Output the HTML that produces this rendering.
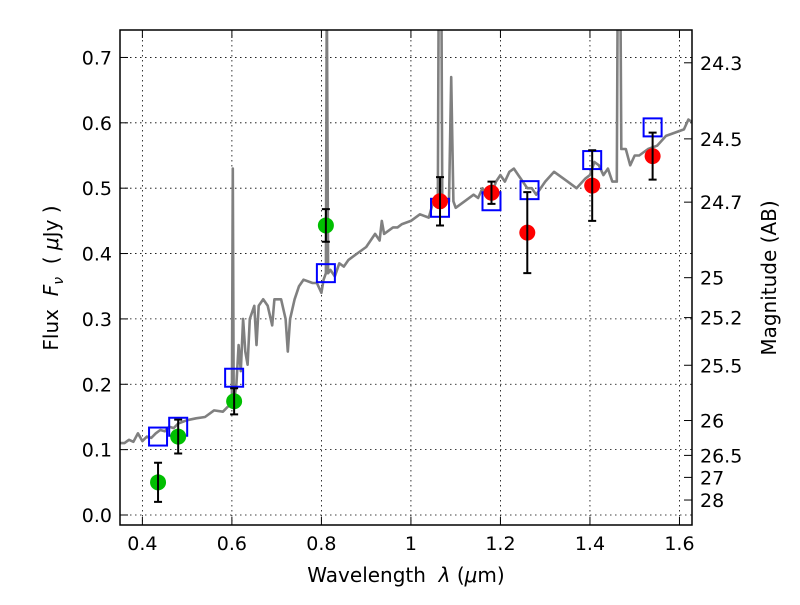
<!DOCTYPE html>
<html><head><meta charset="utf-8"><style>
body{margin:0;background:#fff;}
svg{font-family:"DejaVu Sans","Liberation Sans",sans-serif;}
</style></head><body>
<svg id="chart" width="800" height="600"></svg>
<script>
const specLam=[0.35,0.36,0.37,0.38,0.39,0.40,0.41,0.42,0.43,0.44,0.45,0.46,0.47,0.48,0.50,0.52,0.54,0.56,0.58,0.59,0.60,0.602,0.604,0.61,0.615,0.62,0.625,0.63,0.635,0.64,0.65,0.655,0.66,0.67,0.68,0.69,0.695,0.70,0.71,0.72,0.725,0.73,0.74,0.75,0.76,0.78,0.79,0.80,0.805,0.81,0.812,0.815,0.82,0.83,0.84,0.85,0.86,0.88,0.90,0.91,0.92,0.93,0.935,0.94,0.96,0.97,0.98,1.0,1.02,1.04,1.05,1.06,1.062,1.068,1.07,1.08,1.085,1.09,1.095,1.10,1.12,1.14,1.15,1.16,1.17,1.18,1.19,1.20,1.21,1.22,1.23,1.24,1.25,1.26,1.27,1.28,1.30,1.32,1.33,1.35,1.37,1.39,1.40,1.41,1.42,1.43,1.44,1.45,1.46,1.462,1.468,1.47,1.48,1.49,1.50,1.51,1.53,1.55,1.57,1.59,1.61,1.62,1.63];
const specFlux=[0.11,0.11,0.115,0.112,0.125,0.113,0.12,0.118,0.125,0.13,0.128,0.135,0.133,0.14,0.145,0.148,0.15,0.16,0.158,0.165,0.17,0.53,0.17,0.2,0.26,0.22,0.3,0.25,0.23,0.3,0.32,0.26,0.32,0.33,0.32,0.29,0.33,0.33,0.33,0.3,0.25,0.3,0.33,0.35,0.36,0.355,0.355,0.34,0.36,0.37,0.8,0.37,0.375,0.365,0.385,0.38,0.39,0.4,0.41,0.42,0.43,0.42,0.45,0.43,0.44,0.44,0.445,0.45,0.46,0.455,0.48,0.47,0.8,0.8,0.47,0.48,0.48,0.67,0.48,0.47,0.48,0.49,0.485,0.5,0.49,0.49,0.51,0.52,0.51,0.525,0.53,0.52,0.51,0.5,0.5,0.49,0.51,0.525,0.52,0.51,0.5,0.515,0.52,0.54,0.535,0.52,0.53,0.51,0.51,0.8,0.8,0.56,0.56,0.535,0.55,0.55,0.56,0.565,0.58,0.585,0.59,0.605,0.6];
const greenLam=[0.435,0.48,0.605,0.81];
const greenFlux=[0.05,0.12,0.174,0.443];
const greenErr=[0.03,0.026,0.02,0.025];
const redLam=[1.065,1.18,1.26,1.405,1.54];
const redFlux=[0.48,0.493,0.432,0.504,0.549];
const redErr=[0.037,0.017,0.062,0.054,0.036];
const boxLam=[0.435,0.48,0.605,0.81,1.065,1.18,1.265,1.405,1.54];
const boxFlux=[0.12,0.135,0.21,0.37,0.47,0.48,0.497,0.543,0.593];
const xTicks=[0.4,0.6,0.8,1.0,1.2,1.4,1.6];
const xTickLabels=["0.4","0.6","0.8","1","1.2","1.4","1.6"];
const yTicks=[0,0.1,0.2,0.3,0.4,0.5,0.6,0.7];
const yTickLabels=["0.0","0.1","0.2","0.3","0.4","0.5","0.6","0.7"];
const magTicks=[24.3,24.5,24.7,25,25.2,25.5,26,26.5,27,28];
const magLabels=["24.3","24.5","24.7","25","25.2","25.5","26","26.5","27","28"];

const L=120,R=692,T=30,B=525;
const xmin=0.35,xmax=1.628,ymin=-0.0153,ymax=0.742;
const X=v=>L+(v-xmin)/(xmax-xmin)*(R-L);
const Y=v=>B-(v-ymin)/(ymax-ymin)*(B-T);
const svg=document.getElementById('chart');
const NS='http://www.w3.org/2000/svg';
function mk(tag,attrs,parent){const e=document.createElementNS(NS,tag);for(const k in attrs)e.setAttribute(k,attrs[k]);(parent||svg).appendChild(e);return e;}

const defs=mk('defs',{});
const cp=mk('clipPath',{id:'clip'},defs);
mk('rect',{x:L,y:T,width:R-L,height:B-T},cp);

xTicks.forEach(v=>{const g=mk('line',{x1:X(v),x2:X(v),y1:T,y2:B,stroke:'#000','stroke-width':0.8,'stroke-dasharray':'1.5,3.5'});

});
yTicks.forEach(v=>{const g=mk('line',{x1:L,x2:R,y1:Y(v),y2:Y(v),stroke:'#000','stroke-width':0.8,'stroke-dasharray':'1.5,3.5'});

});

const plotG=mk('g',{'clip-path':'url(#clip)'});
const d=specLam.map((l,i)=>(i?'L':'M')+X(l).toFixed(1)+','+Y(specFlux[i]).toFixed(1)).join(' ');
const sp=mk('path',{d:d,fill:'none',stroke:'#808080','stroke-width':2.6,'stroke-linejoin':'round'},plotG);



boxLam.forEach((l,i)=>{const r=mk('rect',{x:X(l)-9,y:Y(boxFlux[i])-9,width:18,height:18,fill:'none',stroke:'#0000ff','stroke-width':2},plotG);

});

function pts(lams,fl,er,col,name){
 lams.forEach((l,i)=>{
  const c=mk('circle',{cx:X(l),cy:Y(fl[i]),r:8,fill:col},plotG);
  
  
  const x=X(l),y1=Y(fl[i]+er[i]),y2=Y(fl[i]-er[i]);
  const e=mk('path',{d:`M${x},${y1}L${x},${y2}M${x-4},${y1}L${x+4},${y1}M${x-4},${y2}L${x+4},${y2}`,stroke:'#000','stroke-width':2,fill:'none'},plotG);
  
  
 });
}
pts(greenLam,greenFlux,greenErr,'#00bf00','optical-data-point');
pts(redLam,redFlux,redErr,'#ff0000','nir-data-point');

const fr=mk('rect',{x:L,y:T,width:R-L,height:B-T,fill:'none',stroke:'#000','stroke-width':1.5});



xTicks.forEach((v,i)=>{
 mk('line',{x1:X(v),x2:X(v),y1:B,y2:B-8,stroke:'#000'});
 mk('line',{x1:X(v),x2:X(v),y1:T,y2:T+8,stroke:'#000'});
 const t=mk('text',{x:X(v),y:B+25,'font-size':19,'text-anchor':'middle'});t.textContent=xTickLabels[i];
 
 
});
yTicks.forEach((v,i)=>{
 mk('line',{x1:L,x2:L+8,y1:Y(v),y2:Y(v),stroke:'#000'});
 const t=mk('text',{x:L-8,y:Y(v)+7,'font-size':19,'text-anchor':'end'});t.textContent=yTickLabels[i];
 
 
});
magTicks.forEach((m,i)=>{
 const f=Math.pow(10,-0.4*(m-23.9));const y=Y(f);
 mk('line',{x1:R,x2:R-8,y1:y,y2:y,stroke:'#000'});
 const t=mk('text',{x:R+8,y:y+7,'font-size':19});t.textContent=magLabels[i];
 
 
});

let t=mk('text',{x:406,y:582,'font-size':20,'text-anchor':'middle'});
t.innerHTML='Wavelength &#160;<tspan font-style="italic">λ</tspan> (<tspan font-style="italic">μ</tspan>m)';


t=mk('text',{x:0,y:0,'font-size':20,'text-anchor':'middle',transform:'translate(58,278) rotate(-90)'});
t.innerHTML='Flux &#160;<tspan font-style="italic">F</tspan><tspan font-style="italic" font-size="14" dy="5">ν</tspan><tspan dy="-5"> &#160;( </tspan><tspan font-style="italic">μ</tspan>Jy )';


t=mk('text',{x:0,y:0,'font-size':20,'text-anchor':'middle',transform:'translate(776,278) rotate(-90)'});
t.textContent='Magnitude (AB)';


</script>
</body></html>
